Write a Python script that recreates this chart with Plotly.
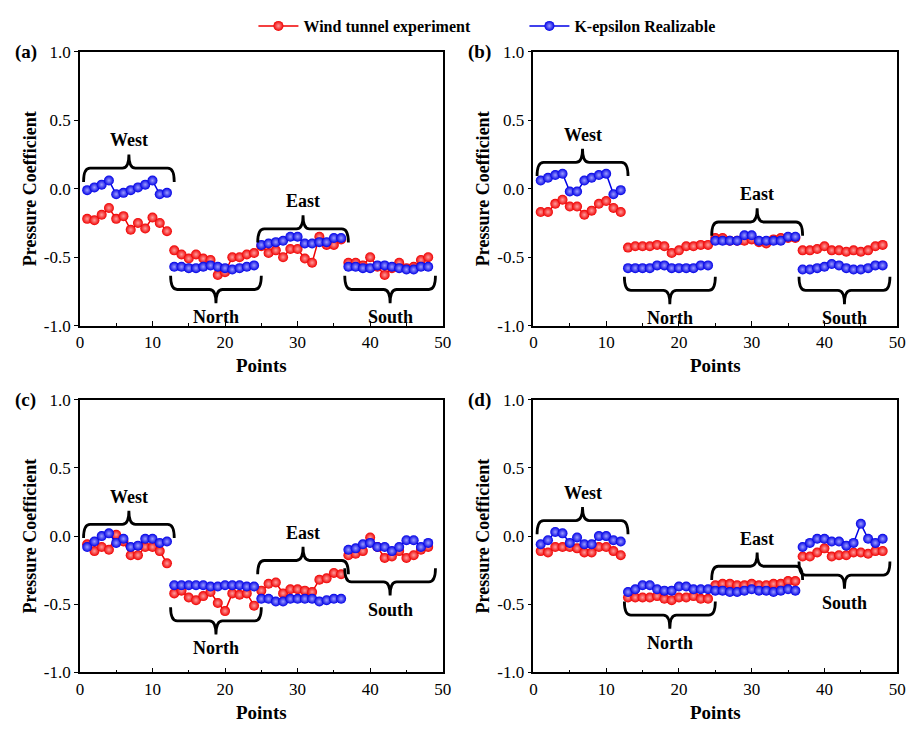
import plotly.graph_objects as go

# Measurement points: 12 taps per facade (West, North, East, South)
points = list(range(1, 49))
facades = ["West", "North", "East", "South"]
y_ticks = [-1.0, -0.5, 0.0, 0.5, 1.0]
y_tick_text = ["-1.0", "-0.5", "0.0", "0.5", "1.0"]

# Case (a)
a_exp = [-0.22, -0.23, -0.19, -0.14, -0.22, -0.20, -0.30, -0.25, -0.29, -0.21, -0.25, -0.31,
         -0.45, -0.48, -0.51, -0.48, -0.51, -0.52, -0.63, -0.61, -0.50, -0.50, -0.48, -0.47,
         -0.42, -0.47, -0.45, -0.50, -0.44, -0.44, -0.51, -0.54, -0.35, -0.41, -0.41, -0.37,
         -0.54, -0.54, -0.56, -0.50, -0.57, -0.63, -0.58, -0.54, -0.58, -0.57, -0.52, -0.50]
a_sim = [-0.01, 0.01, 0.03, 0.06, -0.04, -0.03, -0.01, 0.01, 0.03, 0.06, -0.04, -0.03,
         -0.57, -0.57, -0.58, -0.58, -0.57, -0.56, -0.57, -0.58, -0.59, -0.58, -0.57, -0.56,
         -0.41, -0.40, -0.39, -0.38, -0.35, -0.35, -0.40, -0.40, -0.39, -0.39, -0.36, -0.36,
         -0.57, -0.57, -0.58, -0.58, -0.56, -0.56, -0.57, -0.58, -0.59, -0.59, -0.57, -0.57]

# Case (b)
b_exp = [-0.17, -0.17, -0.11, -0.08, -0.13, -0.13, -0.19, -0.16, -0.11, -0.09, -0.14, -0.17,
         -0.43, -0.42, -0.42, -0.42, -0.41, -0.42, -0.47, -0.45, -0.42, -0.42, -0.41, -0.41,
         -0.36, -0.36, -0.38, -0.38, -0.38, -0.37, -0.39, -0.40, -0.37, -0.36, -0.36, -0.36,
         -0.45, -0.45, -0.44, -0.42, -0.45, -0.45, -0.46, -0.45, -0.46, -0.45, -0.42, -0.41]
b_sim = [0.06, 0.08, 0.10, 0.11, -0.02, -0.02, 0.06, 0.08, 0.10, 0.11, -0.04, -0.01,
         -0.58, -0.58, -0.58, -0.58, -0.56, -0.56, -0.58, -0.58, -0.58, -0.58, -0.56, -0.56,
         -0.38, -0.38, -0.38, -0.38, -0.34, -0.34, -0.38, -0.38, -0.38, -0.38, -0.35, -0.35,
         -0.59, -0.59, -0.58, -0.57, -0.55, -0.56, -0.58, -0.59, -0.59, -0.58, -0.56, -0.56]

# Case (c)
c_exp = [-0.06, -0.11, -0.08, -0.10, 0.01, -0.04, -0.14, -0.14, -0.08, -0.08, -0.11, -0.20,
         -0.42, -0.40, -0.45, -0.47, -0.44, -0.41, -0.49, -0.55, -0.42, -0.43, -0.42, -0.51,
         -0.40, -0.35, -0.34, -0.42, -0.39, -0.39, -0.40, -0.41, -0.32, -0.31, -0.27, -0.28,
         -0.14, -0.13, -0.11, -0.01, -0.08, -0.16, -0.15, -0.11, -0.16, -0.14, -0.10, -0.08]
c_sim = [-0.08, -0.04, 0.00, 0.02, -0.05, -0.02, -0.08, -0.07, -0.02, -0.02, -0.05, -0.04,
         -0.36, -0.36, -0.36, -0.36, -0.36, -0.37, -0.37, -0.36, -0.36, -0.36, -0.37, -0.37,
         -0.46, -0.46, -0.48, -0.48, -0.46, -0.46, -0.46, -0.46, -0.48, -0.47, -0.46, -0.46,
         -0.10, -0.09, -0.06, -0.05, -0.08, -0.08, -0.11, -0.08, -0.03, -0.03, -0.08, -0.05]

# Case (d)
d_exp = [-0.11, -0.12, -0.08, -0.08, -0.08, -0.09, -0.12, -0.12, -0.08, -0.08, -0.11, -0.14,
         -0.45, -0.45, -0.45, -0.45, -0.44, -0.46, -0.47, -0.45, -0.45, -0.44, -0.46, -0.46,
         -0.36, -0.35, -0.35, -0.36, -0.36, -0.35, -0.36, -0.36, -0.35, -0.35, -0.33, -0.33,
         -0.15, -0.15, -0.12, -0.09, -0.15, -0.14, -0.14, -0.12, -0.12, -0.13, -0.11, -0.11]
d_sim = [-0.06, -0.03, 0.03, 0.02, -0.05, -0.01, -0.06, -0.06, 0.00, 0.00, -0.03, -0.04,
         -0.41, -0.39, -0.36, -0.36, -0.39, -0.40, -0.40, -0.37, -0.37, -0.39, -0.39, -0.39,
         -0.40, -0.40, -0.41, -0.41, -0.40, -0.39, -0.40, -0.40, -0.41, -0.40, -0.39, -0.40,
         -0.08, -0.05, -0.02, -0.02, -0.04, -0.04, -0.07, -0.05, 0.09, -0.02, -0.05, -0.02]

panel_tags = ["(a)", "(b)", "(c)", "(d)"]
exp_series = [a_exp, b_exp, c_exp, d_exp]
sim_series = [a_sim, b_sim, c_sim, d_sim]

# Brace layout per panel: (baseline level, direction) for West, North, East, South
brace_levels = [
    [(0.15, 1), (-0.736, -1), (-0.293, 1), (-0.736, -1)],
    [(0.193, 1), (-0.743, -1), (-0.243, 1), (-0.743, -1)],
    [(0.086, 1), (-0.621, -1), (-0.179, 1), (-0.336, -1)],
    [(0.114, 1), (-0.579, -1), (-0.221, 1), (-0.286, -1)],
]

FONT = "Liberation Serif"
RED = "#f00000"
BLUE = "#0000e6"

# Axis boxes in paper fractions (W=921, H=739)
W, H = 921, 739
xdoms = [(77 / W, 445 / W), (537 / W, 906 / W), (77 / W, 445 / W), (537 / W, 906 / W)]
ydoms = [(1 - 325 / H, 1 - 44 / H), (1 - 325 / H, 1 - 44 / H),
         (1 - 681 / H, 1 - 401 / H), (1 - 681 / H, 1 - 401 / H)]

fig = go.Figure()
layout = {}
shapes = []
annotations = []


def split_by_facade(xs, ys):
    """Break the polyline between facades so each facade is its own segment."""
    gx, gy = [], []
    for k in range(len(facades)):
        if k:
            gx.append(None)
            gy.append(None)
        gx.extend(xs[12 * k:12 * k + 12])
        gy.extend(ys[12 * k:12 * k + 12])
    return gx, gy


def brace_path(x0, x1, y, direction, tip=0.1, spike=0.1, r=0.9):
    xm = 0.5 * (x0 + x1)
    yt = y - direction * tip
    ys = y + direction * spike
    return (f"M {x0},{yt} Q {x0},{y} {x0 + r},{y} L {xm - r},{y} "
            f"Q {xm},{y} {xm},{ys} Q {xm},{y} {xm + r},{y} "
            f"L {x1 - r},{y} Q {x1},{y} {x1},{yt}")


for i in range(4):
    n = "" if i == 0 else str(i + 1)
    xa, ya = "x" + n, "y" + n
    for series, color, name, light in [(exp_series[i], RED, "Wind tunnel experiment", "#ff9c9c"),
                                       (sim_series[i], BLUE, "K-epsilon Realizable", "#9c9cff")]:
        gx, gy = split_by_facade(points, series)
        fig.add_trace(go.Scatter(
            x=gx, y=gy, mode="lines+markers", name=name,
            showlegend=(i == 0), xaxis=xa, yaxis=ya, connectgaps=False,
            line=dict(color=color, width=1.5),
            marker=dict(size=10, color=color, line=dict(width=0),
                        gradient=dict(type="radial", color=light)),
        ))

    layout["xaxis" + n] = dict(
        domain=list(xdoms[i]), anchor=ya, range=[0, 50], tickvals=[0, 10, 20, 30, 40, 50],
        showline=True, linecolor="black", linewidth=1.5, mirror=True,
        ticks="inside", ticklen=5, tickwidth=1.2, tickcolor="black",
        minor=dict(tickvals=[5, 15, 25, 35, 45], ticks="inside", ticklen=3, tickwidth=1.2, tickcolor="black"),
        showgrid=False, zeroline=False,
        tickfont=dict(family=FONT, size=17, color="black"),
        title=dict(text="<b>Points</b>", font=dict(family=FONT, size=19, color="black"), standoff=8),
    )
    layout["yaxis" + n] = dict(
        domain=list(ydoms[i]), anchor=xa, range=[-1, 1], tickvals=y_ticks, ticktext=y_tick_text,
        showline=True, linecolor="black", linewidth=1.5, mirror=True,
        ticks="outside", ticklen=4, tickwidth=1.2, tickcolor="black",
        showgrid=False, zeroline=False,
        tickfont=dict(family=FONT, size=17, color="black"),
        title=dict(text="<b>Pressure Coefficient</b>", font=dict(family=FONT, size=18, color="black"), standoff=3),
    )

    # Panel tag
    annotations.append(dict(text=f"<b>{panel_tags[i]}</b>", xref="paper", yref="paper",
                            x=xdoms[i][0] - 55 / W, y=ydoms[i][1], xanchor="center", yanchor="middle",
                            showarrow=False, font=dict(family=FONT, size=19, color="black")))

    # Facade braces with labels
    for k, face in enumerate(facades):
        level, direction = brace_levels[i][k]
        first = points[12 * k]
        last = points[12 * k + 11]
        x0, x1 = first - 0.5, last + 1.0
        shapes.append(dict(type="path", path=brace_path(x0, x1, level, direction),
                           xref=xa, yref=ya, line=dict(color="black", width=2.8)))
        annotations.append(dict(text=f"<b>{face}</b>", xref=xa, yref=ya,
                                x=0.5 * (x0 + x1), y=level + direction * 0.115,
                                xanchor="center", yanchor="bottom" if direction > 0 else "top",
                                showarrow=False, font=dict(family=FONT, size=18, color="black")))

fig.update_layout(
    width=W, height=H, margin=dict(l=0, r=0, t=0, b=0),
    font=dict(family=FONT, color="black"),
    paper_bgcolor="white", plot_bgcolor="white",
    shapes=shapes, annotations=annotations,
    legend=dict(orientation="h", x=253 / W, xanchor="left", y=1.0, yanchor="top",
                font=dict(family=FONT, size=16, color="black", weight="bold"),
                itemwidth=40, entrywidth=216, tracegroupgap=0, bgcolor="rgba(0,0,0,0)"),
    **layout,
)

fig.write_html("out.html")
